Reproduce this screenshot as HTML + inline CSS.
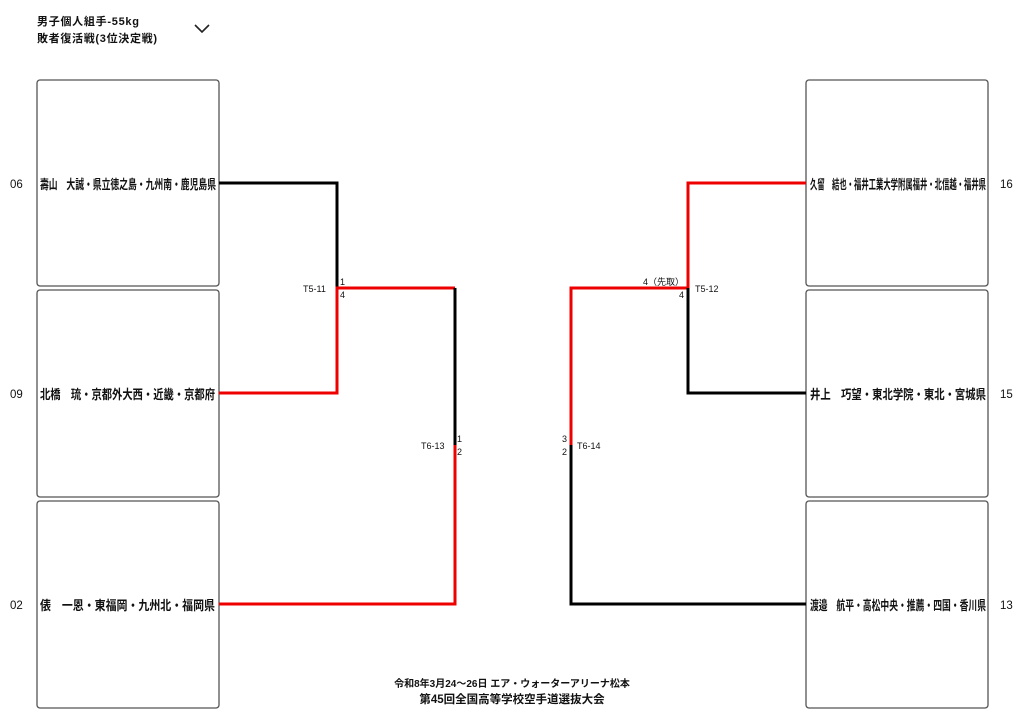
<!DOCTYPE html>
<html><head><meta charset="utf-8"><style>
body{margin:0;background:#fff;width:1024px;height:724px;overflow:hidden}
svg{display:block}
text{font-family:"Liberation Sans","Noto Sans CJK JP",sans-serif;fill:#111}
</style></head><body>
<svg width="1024" height="724" viewBox="0 0 1024 724">
<text x="37" y="25" font-size="11" font-weight="bold" textLength="102">男子個人組手-55kg</text>
<text x="37" y="42" font-size="11" font-weight="bold" textLength="120">敗者復活戦(3位決定戦)</text>
<path d="M195 25 L202 32 L209 25" fill="none" stroke="#222" stroke-width="1.6"/>
<g fill="none" stroke="#555" stroke-width="1.3">
<rect x="37" y="80" width="182" height="206" rx="3"/>
<rect x="37" y="290" width="182" height="207" rx="3"/>
<rect x="37" y="501" width="182" height="207" rx="3"/>
<rect x="806" y="80" width="182" height="206" rx="3"/>
<rect x="806" y="290" width="182" height="207" rx="3"/>
<rect x="806" y="501" width="182" height="207" rx="3"/>
</g>
<g font-size="11.5">
<text x="10" y="188">06</text><text x="10" y="398">09</text><text x="10" y="609">02</text>
<text x="1000" y="188">16</text><text x="1000" y="398">15</text><text x="1000" y="609">13</text>
</g>
<g font-size="13" font-weight="bold">
<text x="40" y="189" textLength="176" lengthAdjust="spacingAndGlyphs">壽山　大誠・県立徳之島・九州南・鹿児島県</text>
<text x="40" y="399" textLength="175" lengthAdjust="spacingAndGlyphs">北橋　琉・京都外大西・近畿・京都府</text>
<text x="40" y="610" textLength="175" lengthAdjust="spacingAndGlyphs">俵　一恩・東福岡・九州北・福岡県</text>
<text x="810" y="189" textLength="176" lengthAdjust="spacingAndGlyphs">久留　結也・福井工業大学附属福井・北信越・福井県</text>
<text x="810" y="399" textLength="176" lengthAdjust="spacingAndGlyphs">井上　巧望・東北学院・東北・宮城県</text>
<text x="810" y="610" textLength="176" lengthAdjust="spacingAndGlyphs">渡邉　航平・高松中央・推薦・四国・香川県</text>
</g>
<g fill="none" stroke-width="3">
<path d="M219 183 H337 V288" stroke="#000"/>
<path d="M219 393 H337 V288 H455" stroke="#e00"/>
<path d="M455 288 V445" stroke="#000"/>
<path d="M219 604 H455 V445" stroke="#e00"/>
<path d="M806 183 H688 V288 H571 V445" stroke="#e00"/>
<path d="M688 288 V393 H806" stroke="#000"/>
<path d="M571 445 V604 H806" stroke="#000"/>
</g>
<g font-size="9">
<text x="303" y="292">T5-11</text><text x="340" y="285">1</text><text x="340" y="298">4</text>
<text x="421" y="449">T6-13</text><text x="457" y="442">1</text><text x="457" y="455">2</text>
<text x="643" y="285">4（先取）</text><text x="679" y="298">4</text><text x="695" y="292">T5-12</text>
<text x="562" y="442">3</text><text x="562" y="455">2</text><text x="577" y="449">T6-14</text>
</g>
<text x="512" y="687" font-size="10" font-weight="bold" text-anchor="middle">令和8年3月24～26日 エア・ウォーターアリーナ松本</text>
<text x="512" y="703" font-size="11.5" font-weight="bold" text-anchor="middle">第45回全国高等学校空手道選抜大会</text>
</svg>
</body></html>
